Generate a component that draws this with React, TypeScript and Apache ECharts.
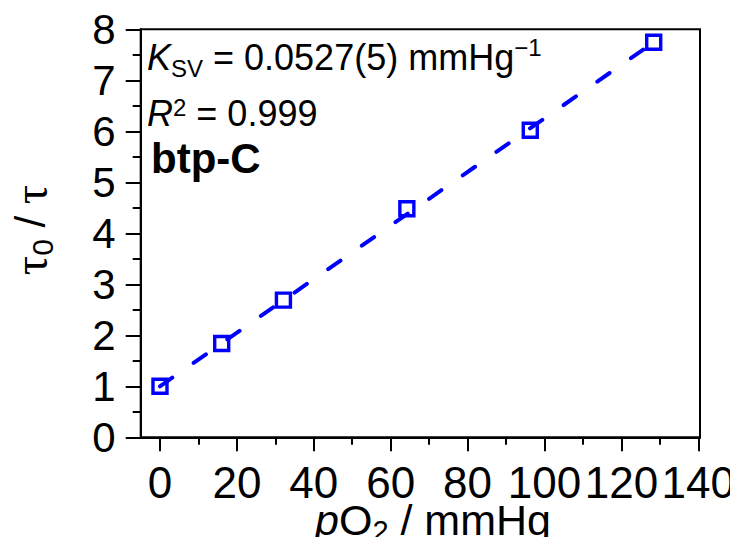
import React, { useEffect, useRef } from "react";
import * as echarts from "echarts";

// ---- data ----
const pressure = [0, 16, 32, 64, 96, 128]; // pO2 / mmHg
const tauRatio = [1.0, 1.84, 2.69, 4.48, 6.02, 7.745]; // tau0 / tau
const fitPressure = [0, 128];
const fitTauRatio = [1.0, 7.746];

const xRange = [-5, 140];
const xTickRange = [0, 140];
const xInterval = 20;
const yRange = [0, 8];
const yInterval = 1;

const annotationKsv = "0.0527(5)";
const annotationR2 = "0.999";
const sampleName = "btp-C";

// ---- layout ----
const W = 738;
const H = 545;
const G_LEFT = 140.7;
const G_RIGHT = 700;
const G_TOP = 29.3;
const G_BOTTOM = 437.3;
const SANS = "Liberation Sans, Arial, sans-serif";
const SERIF = "Liberation Serif, Times New Roman, serif";
const BLUE = "#0000ff";

export default function App() {
  const ref = useRef<HTMLDivElement>(null);

  useEffect(() => {
    if (!ref.current) return;
    const chart = echarts.init(ref.current, undefined, { renderer: "svg" });

    const gW = G_RIGHT - G_LEFT;
    const gH = G_BOTTOM - G_TOP;
    const tickLeft = G_LEFT + ((xTickRange[0] - xRange[0]) / (xRange[1] - xRange[0])) * gW;

    const scatterData = pressure.map((p, i) => [p, tauRatio[i]]);
    const fitData = fitPressure.map((p, i) => [p, fitTauRatio[i]]);

    const black = { color: "#000", width: 2 };

    chart.setOption({
      animation: false,
      backgroundColor: "#fff",
      grid: [
        {
          left: G_LEFT,
          top: G_TOP,
          width: gW,
          height: gH,
          show: true,
          borderColor: "#000",
          borderWidth: 2,
          backgroundColor: "transparent",
        },
        {
          left: tickLeft,
          top: G_TOP,
          width: G_RIGHT - tickLeft,
          height: gH,
          show: false,
        },
      ],
      xAxis: [
        {
          type: "value",
          gridIndex: 0,
          min: xRange[0],
          max: xRange[1],
          axisLine: { show: true, onZero: false, lineStyle: black },
          axisTick: { show: false },
          axisLabel: { show: false },
          splitLine: { show: false },
        },
        {
          type: "value",
          gridIndex: 1,
          min: xTickRange[0],
          max: xTickRange[1],
          interval: xInterval,
          axisLine: { show: false },
          axisTick: { show: true, length: 14, lineStyle: black },
          minorTick: { show: true, splitNumber: 2, length: 7.5, lineStyle: black },
          axisLabel: {
            fontSize: 44,
            color: "#000",
            fontFamily: SANS,
            margin: 23,
          },
          splitLine: { show: false },
        },
      ],
      yAxis: [
        {
          type: "value",
          gridIndex: 0,
          min: yRange[0],
          max: yRange[1],
          interval: yInterval,
          axisLine: { show: true, onZero: false, lineStyle: black },
          axisTick: { show: true, length: 15, lineStyle: black },
          minorTick: { show: true, splitNumber: 2, length: 8, lineStyle: black },
          axisLabel: {
            fontSize: 42,
            color: "#000",
            fontFamily: SANS,
            margin: 25,
          },
          splitLine: { show: false },
        },
        { type: "value", gridIndex: 1, show: false, min: 0, max: 1 },
      ],
      series: [
        {
          type: "scatter",
          xAxisIndex: 0,
          yAxisIndex: 0,
          data: scatterData,
          symbol: "rect",
          symbolSize: 14,
          itemStyle: { color: "rgba(0,0,0,0)", borderColor: BLUE, borderWidth: 3.4, opacity: 1 },
          z: 2,
        },
        {
          type: "line",
          xAxisIndex: 0,
          yAxisIndex: 0,
          data: fitData,
          symbol: "none",
          showSymbol: false,
          lineStyle: { color: BLUE, width: 4, type: [15, 26], cap: "round", opacity: 1 },
          z: 3,
        },
      ],
      graphic: [
        {
          type: "text",
          x: 147,
          y: 37.5,
          style: {
            text: `{k|K}{sub|SV}{n| = ${annotationKsv} mmHg}{sup|−1}`,
            verticalAlign: "top",
            align: "left",
            rich: {
              k: { fontSize: 36, fontStyle: "italic", fontFamily: SANS, lineHeight: 40, color: "#000" },
              sub: { fontSize: 24, fontFamily: SANS, height: 19, lineHeight: 40, verticalAlign: "bottom", color: "#000" },
              n: { fontSize: 36, fontFamily: SANS, lineHeight: 40, color: "#000" },
              sup: { fontSize: 24, fontFamily: SANS, height: 20, lineHeight: 40, verticalAlign: "top", color: "#000" },
            },
          },
        },
        {
          type: "text",
          x: 147,
          y: 93.5,
          style: {
            text: `{r|R}{sup|2}{n| = ${annotationR2}}`,
            verticalAlign: "top",
            align: "left",
            rich: {
              r: { fontSize: 36, fontStyle: "italic", fontFamily: SANS, lineHeight: 40, color: "#000" },
              sup: { fontSize: 24, fontFamily: SANS, height: 28, lineHeight: 40, verticalAlign: "top", color: "#000" },
              n: { fontSize: 36, fontFamily: SANS, lineHeight: 40, color: "#000" },
            },
          },
        },
        {
          type: "text",
          x: 151,
          y: 158,
          style: {
            text: sampleName,
            fontSize: 42,
            fontWeight: "bold",
            fontFamily: SANS,
            fill: "#000",
            verticalAlign: "middle",
            align: "left",
          },
        },
        {
          type: "text",
          x: 433,
          y: 497,
          style: {
            text: "{i|p}{n|O}{sub|2}{n| / mmHg}",
            verticalAlign: "top",
            align: "center",
            rich: {
              i: { fontSize: 43, fontStyle: "italic", fontFamily: SANS, lineHeight: 46, color: "#000" },
              n: { fontSize: 43, fontFamily: SANS, lineHeight: 46, color: "#000" },
              sub: { fontSize: 29, fontFamily: SANS, height: 24, lineHeight: 46, verticalAlign: "bottom", color: "#000" },
            },
          },
        },
        {
          type: "text",
          x: 30,
          y: 230,
          rotation: Math.PI / 2,
          style: {
            text: "{t|τ}{sub|0}{n| / }{t|τ}",
            verticalAlign: "middle",
            align: "center",
            rich: {
              t: { fontSize: 48, fontFamily: SERIF, lineHeight: 46, color: "#000" },
              n: { fontSize: 42, fontFamily: SANS, lineHeight: 46, color: "#000" },
              sub: { fontSize: 30, fontFamily: SANS, height: 22, lineHeight: 46, verticalAlign: "bottom", color: "#000" },
            },
          },
        },
      ],
    });

    return () => chart.dispose();
  }, []);

  return <div ref={ref} style={{ width: W, height: H, margin: -8 }} />;
}
